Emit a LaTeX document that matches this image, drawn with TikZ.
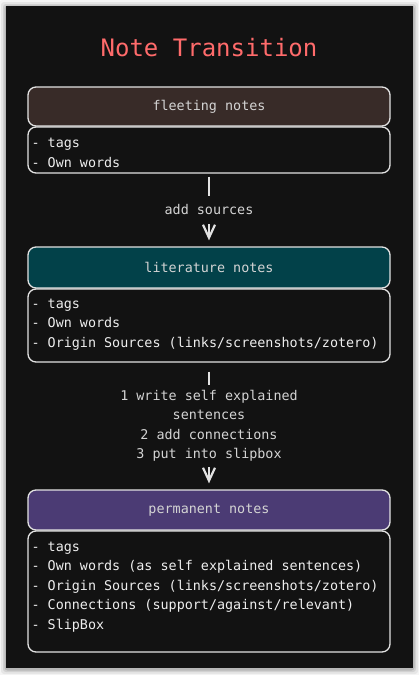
\documentclass[tikz,border=0pt]{standalone}
\usepackage{fontspec}
\setmonofont{DejaVu Sans Mono}
\usetikzlibrary{arrows.meta,calc}
\definecolor{panel}{HTML}{121212}
\definecolor{fleetc}{HTML}{382B28}
\definecolor{litc}{HTML}{024149}
\definecolor{permc}{HTML}{4B3B74}
\definecolor{titlec}{HTML}{FF6B6B}
\definecolor{linec}{HTML}{E2E2E2}
\definecolor{txtc}{HTML}{EEEEEE}
\definecolor{hdrc}{HTML}{D4D4D4}
\tikzset{
  body/.style={draw=linec, line width=1.3pt, rounded corners=8pt, fill=panel, minimum width=362pt, inner sep=0pt},
  header/.style={draw=linec, line width=1.3pt, rounded corners=8pt, minimum width=362pt, inner sep=0pt, text=hdrc, font=\fontsize{13.4}{19.5}\selectfont\ttfamily},
  bodytext/.style={anchor=north west, align=left, inner sep=0pt, text=txtc, font=\fontsize{13.4}{19.4}\selectfont\ttfamily},
  conn/.style={draw=linec, line width=2pt, -{Straight Barb[length=13pt,width=12pt,line width=2.2pt]}},
  lbl/.style={fill=panel, text=hdrc, align=center, inner xsep=2pt, font=\fontsize{13.4}{19.5}\selectfont\ttfamily}
}
\begin{document}
\begin{tikzpicture}[x=1pt,y=-1pt]
\useasboundingbox (0,0) rectangle (419,675);
\fill[white] (0,0) rectangle (419,675);
\foreach \s/\o in {7/0.04,5/0.06,3/0.09,1.5/0.12}{
  \fill[black,opacity=\o,rounded corners=3pt] (6-\s,6-\s+1) rectangle (413+\s,668+\s+1);
}
\fill[panel] (6,6) rectangle (413,668);
\node[text=titlec, font=\fontsize{24}{28}\selectfont\ttfamily] (title) at (209,48) {Note Transition};

\node[header, fill=fleetc, minimum height=39pt] (fh) at (209,106.5) {fleeting notes};
\node[body, minimum height=46pt] (fb) at (209,150) {};
\node[bodytext] (ft) at ($(fb.north west)+(4,7.6)$) {\strut- tags\\- Own words};

\node[header, fill=litc, minimum height=41pt] (lh) at (209,267.5) {literature notes};
\node[body, minimum height=73pt] (lb) at (209,325.5) {};
\node[bodytext] (lt) at ($(lb.north west)+(4,6.2)$) {\strut- tags\\- Own words\\- Origin Sources (links/screenshots/zotero)};

\node[header, fill=permc, minimum height=40pt] (ph) at (209,510) {permanent notes};
\node[body, minimum height=121pt] (pb) at (209,591.5) {};
\node[bodytext] (pt) at ($(pb.north west)+(4,7.4)$) {\strut- tags\\- Own words (as self explained sentences)\\- Origin Sources (links/screenshots/zotero)\\- Connections (support/against/relevant)\\- SlipBox};

\draw[conn, shorten <=3pt, shorten >=6pt] (fb.south) -- node[lbl, inner ysep=9pt] (l1) {add sources} (lh.north);
\draw[conn, shorten <=9pt, shorten >=6pt] (lb.south) -- node[lbl, inner ysep=5pt] (l2) {1 write self explained\\sentences\\2 add connections\\3 put into slipbox} (ph.north);
\end{tikzpicture}
\end{document}
